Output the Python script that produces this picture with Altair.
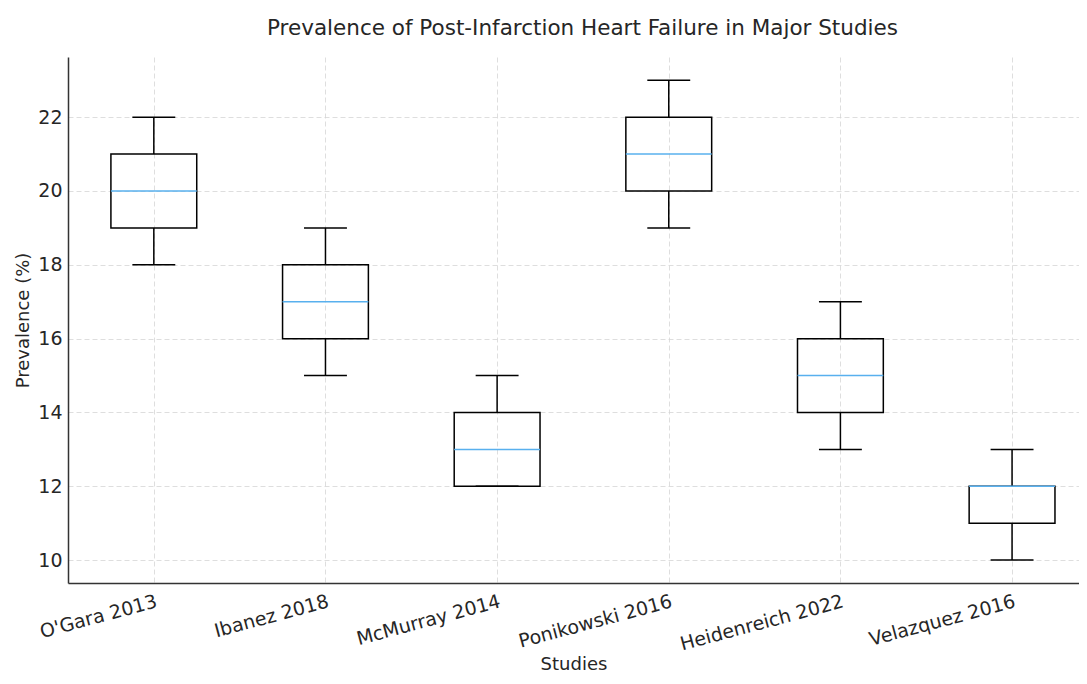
import altair as alt
import pandas as pd

studies = ["O'Gara 2013", "Ibanez 2018", "McMurray 2014", "Ponikowski 2016",
           "Heidenreich 2022", "Velazquez 2016"]
mins = [18, 15, 12, 19, 13, 10]
q1s = [19, 16, 12, 20, 14, 11]
medians = [20, 17, 13, 21, 15, 12]
q3s = [21, 18, 14, 22, 16, 12]
maxs = [22, 19, 15, 23, 17, 13]

BOX_HALF = 0.25
CAP_HALF = 0.125

df = pd.DataFrame({
    "study": studies,
    "pos": list(range(1, len(studies) + 1)),
    "lo": mins, "q1": q1s, "med": medians, "q3": q3s, "hi": maxs,
})
df["bl"] = df["pos"] - BOX_HALF
df["br"] = df["pos"] + BOX_HALF
df["cl"] = df["pos"] - CAP_HALF
df["cr"] = df["pos"] + CAP_HALF

label_expr = "[" + ",".join("'" + s.replace("'", "\\'") + "'" for s in studies) + "][datum.value - 1]"

FONT = "DejaVu Sans"
TXT = "#262626"
GRID = "#d6d6d6"

xscale = alt.Scale(domain=[0.5, 6.39], nice=False, zero=False)
yscale = alt.Scale(domain=[9.38, 23.63], nice=False, zero=False)

x_axis = alt.Axis(values=list(range(1, len(studies) + 1)), labelExpr=label_expr,
                  title="Studies", labelAngle=-15, labelAlign="right", labelBaseline="top",
                  labelPadding=9, ticks=False, grid=True, gridColor=GRID,
                  gridDash=[5, 3], gridWidth=0.8, domainColor="#333333", domainWidth=1.5,
                  labelFont=FONT, labelFontSize=19, labelColor=TXT,
                  titleFont=FONT, titleFontSize=18, titleFontWeight="normal", titleColor=TXT,
                  titleBaseline="alphabetic", titleY=86)
y_axis = alt.Axis(values=[10, 12, 14, 16, 18, 20, 22], title="Prevalence (%)",
                  ticks=False, grid=True, gridColor=GRID, gridDash=[5, 3], gridWidth=0.8,
                  domainColor="#333333", domainWidth=1.5, labelPadding=6,
                  labelFont=FONT, labelFontSize=19, labelColor=TXT,
                  titleFont=FONT, titleFontSize=18, titleFontWeight="normal", titleColor=TXT,
                  titlePadding=5)

base = alt.Chart(df)

lower_whisker = base.mark_rule(color="black", strokeWidth=1.5).encode(
    x=alt.X("pos:Q", scale=xscale, axis=x_axis),
    y=alt.Y("lo:Q", scale=yscale, axis=y_axis),
    y2="q1:Q",
)
upper_whisker = base.mark_rule(color="black", strokeWidth=1.5).encode(
    x=alt.X("pos:Q", scale=xscale), y=alt.Y("q3:Q", scale=yscale), y2="hi:Q")
lower_cap = base.mark_rule(color="black", strokeWidth=1.5).encode(
    x=alt.X("cl:Q", scale=xscale), x2="cr:Q", y=alt.Y("lo:Q", scale=yscale))
upper_cap = base.mark_rule(color="black", strokeWidth=1.5).encode(
    x=alt.X("cl:Q", scale=xscale), x2="cr:Q", y=alt.Y("hi:Q", scale=yscale))
box = base.mark_rect(fill="white", fillOpacity=0, stroke="black", strokeWidth=1.5).encode(
    x=alt.X("bl:Q", scale=xscale), x2="br:Q",
    y=alt.Y("q1:Q", scale=yscale), y2="q3:Q")
median = base.mark_rule(color="#58b0ee", strokeWidth=1.5).encode(
    x=alt.X("bl:Q", scale=xscale), x2="br:Q", y=alt.Y("med:Q", scale=yscale))

chart = alt.layer(lower_whisker, upper_whisker, lower_cap, upper_cap, box, median).properties(
    width=1011, height=526,
    title=alt.TitleParams("Prevalence of Post-Infarction Heart Failure in Major Studies",
                          font=FONT, fontSize=21.5, fontWeight="normal", color=TXT,
                          anchor="middle", offset=18, dx=9),
    autosize=alt.AutoSizeParams(type="none"),
    padding={"left": 60, "top": 49, "right": 0, "bottom": 93},
).configure_view(stroke=None)

chart.save("out.html", embed_options={"renderer": "svg", "actions": False})
